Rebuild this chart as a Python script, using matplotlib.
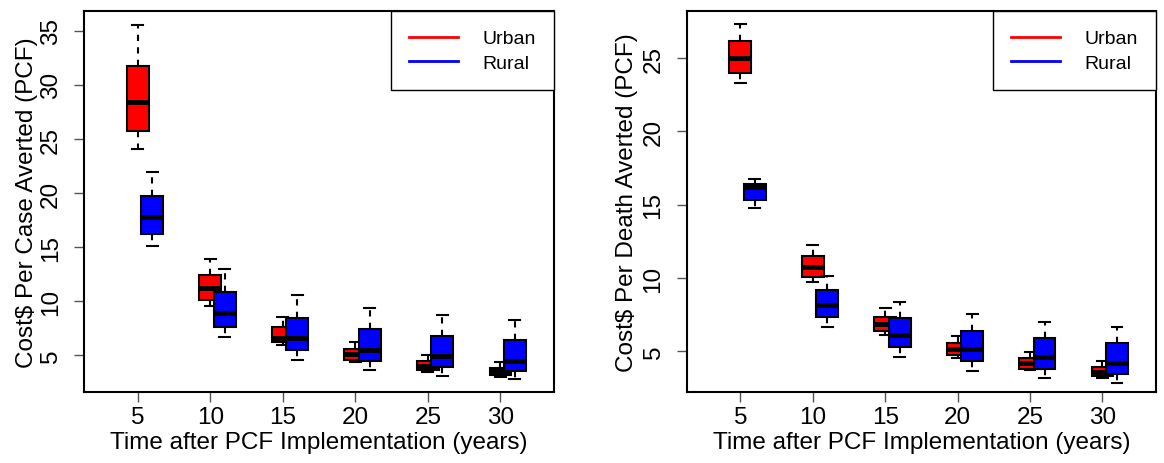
import matplotlib
matplotlib.use("Agg")
import matplotlib.pyplot as plt
from matplotlib.lines import Line2D

plt.rcParams['font.family'] = ['Liberation Sans', 'DejaVu Sans']

years = [5, 10, 15, 20, 25, 30]

# cost per case averted: whisker low, Q1, median, Q3, whisker high
case_urban_lo = [24.05, 9.57, 5.94, 4.37, 3.52, 3.00]
case_urban_q1 = [25.75, 10.16, 6.22, 4.56, 3.66, 3.20]
case_urban_med = [28.40, 11.26, 6.65, 5.10, 4.05, 3.55]
case_urban_q3 = [31.74, 12.40, 7.60, 5.57, 4.50, 3.89]
case_urban_hi = [35.58, 13.87, 8.52, 6.28, 5.08, 4.40]

case_rural_lo = [15.10, 6.71, 4.58, 3.67, 3.15, 2.80]
case_rural_q1 = [16.24, 7.63, 5.48, 4.47, 3.94, 3.54]
case_rural_med = [17.80, 8.92, 6.65, 5.54, 4.93, 4.53]
case_rural_q3 = [19.69, 10.83, 8.49, 7.45, 6.83, 6.43]
case_rural_hi = [21.93, 13.00, 10.58, 9.42, 8.70, 8.28]

# cost per death averted
death_urban_lo = [23.29, 9.70, 6.12, 4.55, 3.71, 3.16]
death_urban_q1 = [24.02, 10.06, 6.35, 4.73, 3.82, 3.30]
death_urban_med = [25.00, 10.72, 6.85, 5.12, 4.17, 3.59]
death_urban_q3 = [26.18, 11.47, 7.35, 5.53, 4.53, 3.93]
death_urban_hi = [27.30, 12.27, 7.97, 6.03, 4.96, 4.32]

death_rural_lo = [14.75, 6.63, 4.60, 3.66, 3.16, 2.84]
death_rural_q1 = [15.34, 7.31, 5.28, 4.34, 3.80, 3.48]
death_rural_med = [16.23, 8.15, 6.08, 5.14, 4.60, 4.23]
death_rural_q3 = [16.41, 9.15, 7.26, 6.39, 5.90, 5.55]
death_rural_hi = [16.78, 10.15, 8.38, 7.51, 7.01, 6.65]

FS = 17.5


def make_stats(lo, q1, med, q3, hi):
    return [dict(whislo=a, q1=b, med=c, q3=d, whishi=e, fliers=[])
            for a, b, c, d, e in zip(lo, q1, med, q3, hi)]


def draw_boxes(ax, stats, pos, color, z):
    ax.bxp(stats, positions=pos, widths=1.5, capwidths=0.75,
           patch_artist=True, showfliers=False, manage_ticks=False,
           boxprops=dict(facecolor=color, edgecolor='black', linewidth=1.5),
           medianprops=dict(color='black', linewidth=3.5, solid_capstyle='butt'),
           whiskerprops=dict(color='black', linewidth=1.5, linestyle=(0, (3, 3))),
           capprops=dict(color='black', linewidth=1.5),
           zorder=z)


def panel(ax, urban, rural, ylabel, yticks, ylim, lab_x):
    draw_boxes(ax, urban, years, 'red', 2)
    draw_boxes(ax, rural, [y + 1 for y in years], 'blue', 3)
    ax.set_xlim(1.3, 33.7)
    ax.set_ylim(*ylim)
    ax.set_xticks(years)
    ax.set_xticklabels([str(y) for y in years])
    ax.set_yticks(yticks)
    ax.set_yticklabels([str(y) for y in yticks], rotation=90, va='center')
    ax.tick_params(axis='both', labelsize=FS, length=7, width=1, color='#555555')
    ax.tick_params(axis='y', pad=9)
    ax.tick_params(axis='x', pad=3)
    for s in ax.spines.values():
        s.set_linewidth(1.5)
    ax.set_xlabel('Time after PCF Implementation (years)', fontsize=FS, labelpad=2)
    ax.set_ylabel(ylabel, fontsize=FS)
    ax.yaxis.set_label_coords(lab_x, 0.5)
    handles = [Line2D([], [], color='red', lw=2), Line2D([], [], color='blue', lw=2)]
    leg = ax.legend(handles, ['Urban', 'Rural'], loc='upper right', fontsize=14,
                    fancybox=False, edgecolor='black', framealpha=1,
                    borderaxespad=0, handlelength=2.5, handletextpad=1.25,
                    borderpad=0.95, labelspacing=0.36)
    leg.get_frame().set_linewidth(1)


fig = plt.figure(figsize=(11.64, 4.64), dpi=100)
ax1 = fig.add_axes([0.0722, 0.1524, 0.4038, 0.8211])
ax2 = fig.add_axes([0.590, 0.1524, 0.4032, 0.8211])

panel(ax1,
      make_stats(case_urban_lo, case_urban_q1, case_urban_med, case_urban_q3, case_urban_hi),
      make_stats(case_rural_lo, case_rural_q1, case_rural_med, case_rural_q3, case_rural_hi),
      'Cost$ Per Case Averted (PCF)', [5, 10, 15, 20, 25, 30, 35], (1.6, 36.8), -0.098)
panel(ax2,
      make_stats(death_urban_lo, death_urban_q1, death_urban_med, death_urban_q3, death_urban_hi),
      make_stats(death_rural_lo, death_rural_q1, death_rural_med, death_rural_q3, death_rural_hi),
      'Cost$ Per Death Averted (PCF)', [5, 10, 15, 20, 25], (2.2, 28.2), -0.104)

fig.savefig('out.png', dpi=100)
